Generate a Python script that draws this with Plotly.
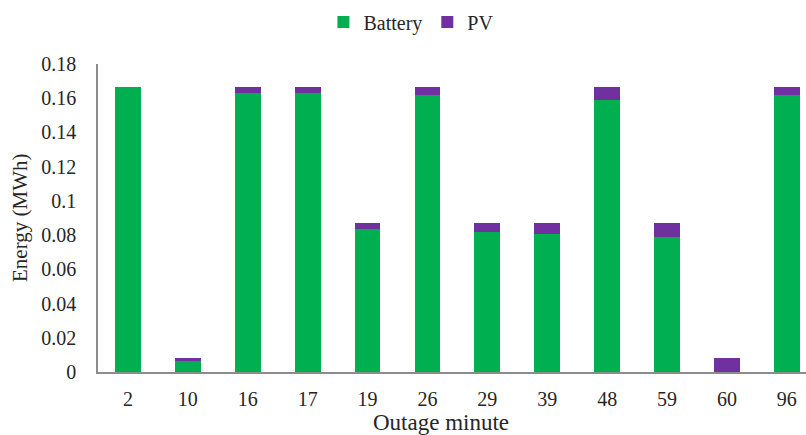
import plotly.graph_objects as go

# Outage events (minute of outage) and energy supplied per source, in MWh
outage_minutes = ["2", "10", "16", "17", "19", "26", "29", "39", "48", "59", "60", "96"]
battery_mwh = [0.1665, 0.0064, 0.1633, 0.1633, 0.0837, 0.1617, 0.0821, 0.0808, 0.1588, 0.0790, 0.0, 0.1617]
pv_mwh = [0.0, 0.0019, 0.0033, 0.0033, 0.0035, 0.0050, 0.0051, 0.0064, 0.0078, 0.0082, 0.0082, 0.0050]

y_ticks = [0, 0.02, 0.04, 0.06, 0.08, 0.1, 0.12, 0.14, 0.16, 0.18]
y_tick_text = ["0", "0.02", "0.04", "0.06", "0.08", "0.1", "0.12", "0.14", "0.16", "0.18"]

GREEN = "#00B050"
PURPLE = "#7030A0"
TEXT = "#262626"
AXIS = "#8c8c8c"
FONT = "Times New Roman, Liberation Serif, DejaVu Serif, serif"

fig = go.Figure()
fig.add_trace(go.Bar(name="Battery", x=outage_minutes, y=battery_mwh,
                     marker=dict(color=GREEN, line=dict(width=0)), width=0.43))
fig.add_trace(go.Bar(name="PV", x=outage_minutes, y=pv_mwh,
                     marker=dict(color=PURPLE, line=dict(width=0)), width=0.43))

fig.update_layout(
    barmode="stack",
    width=806, height=435,
    margin=dict(l=98, r=0, t=64, b=63),
    paper_bgcolor="white", plot_bgcolor="white",
    font=dict(family=FONT, color=TEXT, size=20),
    showlegend=True,
    legend=dict(orientation="h", x=0.442, xanchor="center", y=1.2, yanchor="top",
                font=dict(family=FONT, size=20, color=TEXT),
                itemwidth=30, traceorder="normal", bgcolor="rgba(0,0,0,0)"),
    bargap=0.57,
)

fig.update_xaxes(
    type="category", range=[-0.5, 11.32],
    showline=True, linecolor=AXIS, linewidth=1.5,
    showgrid=False, zeroline=False, ticks="",
    tickfont=dict(family=FONT, size=20, color=TEXT),
    ticklabelstandoff=8,
)
fig.update_yaxes(
    range=[0, 0.18], tickvals=y_ticks, ticktext=y_tick_text,
    showline=True, linecolor=AXIS, linewidth=1.5,
    showgrid=False, zeroline=False, ticks="",
    tickfont=dict(family=FONT, size=20, color=TEXT),
    ticklabelstandoff=16,
)

# Axis titles placed as annotations
fig.add_annotation(text="Outage minute", xref="paper", yref="paper",
                   x=0.4845, y=0, yshift=-36, xanchor="center", yanchor="top",
                   showarrow=False, font=dict(family=FONT, size=23, color=TEXT))
fig.add_annotation(text="Energy (MWh)", xref="paper", yref="paper",
                   x=0, xshift=-78, y=0.5, xanchor="center", yanchor="middle",
                   textangle=-90, showarrow=False,
                   font=dict(family=FONT, size=21, color=TEXT))

fig.write_html("out.html")
